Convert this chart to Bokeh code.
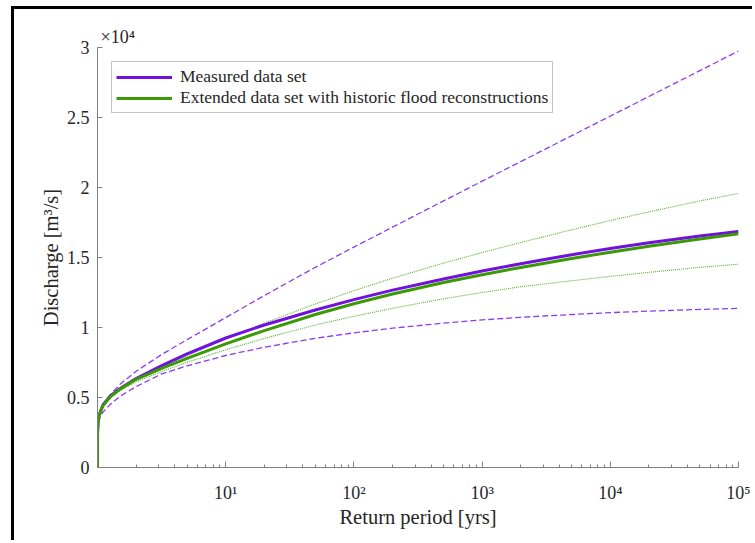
from bokeh.plotting import figure
from bokeh.models import Range1d, FixedTicker, Title
from bokeh.embed import file_html
from bokeh.resources import INLINE

# Return period [yrs]
return_period = [1, 1.0001, 1.001, 1.01, 1.03, 1.1, 1.26, 1.5, 2, 3.2, 5, 10, 20, 50,
                 100, 200, 500, 1000, 2000, 5000, 10000, 20000, 50000, 100000]

# Discharge [x 10^4 m3/s]
measured = [0, 0.19, 0.25, 0.32, 0.375, 0.445, 0.511, 0.564, 0.635, 0.729,
            0.812, 0.925, 1.018, 1.125, 1.199, 1.267, 1.347, 1.403, 1.456, 1.52,
            1.564, 1.605, 1.654, 1.685]
measured_upper = [0, 0.195, 0.255, 0.33, 0.385, 0.455, 0.52, 0.595, 0.687, 0.81,
                  0.913, 1.071, 1.228, 1.43, 1.574, 1.717, 1.904, 2.045, 2.185, 2.37,
                  2.51, 2.65, 2.835, 2.975]
measured_lower = [0, 0.18, 0.235, 0.30, 0.345, 0.394, 0.452, 0.509, 0.578, 0.67,
                  0.726, 0.80, 0.859, 0.923, 0.962, 0.995, 1.031, 1.054, 1.073, 1.093,
                  1.106, 1.117, 1.129, 1.137]
extended = [0, 0.19, 0.25, 0.32, 0.372, 0.44, 0.505, 0.56, 0.63, 0.71,
            0.779, 0.883, 0.978, 1.093, 1.170, 1.239, 1.321, 1.377, 1.429, 1.493,
            1.538, 1.58, 1.632, 1.669]
extended_upper = [0, 0.19, 0.25, 0.32, 0.375, 0.445, 0.51, 0.565, 0.64, 0.72,
                  0.798, 0.918, 1.031, 1.168, 1.263, 1.352, 1.46, 1.535, 1.607, 1.698,
                  1.764, 1.826, 1.904, 1.958]
extended_lower = [0, 0.185, 0.245, 0.315, 0.365, 0.433, 0.50, 0.55, 0.612, 0.687,
                  0.751, 0.841, 0.922, 1.018, 1.08, 1.137, 1.205, 1.25, 1.291, 1.334,
                  1.365, 1.394, 1.43, 1.452]
scale = 1e4

x_ticks = [10, 100, 1000, 10000, 100000]
x_tick_labels = ["10\u00b9", "10\u00b2", "10\u00b3", "10\u2074", "10\u2075"]
y_ticks = [0, 5000, 10000, 15000, 20000, 25000, 30000]
y_tick_labels = ["0", "0.5", "1", "1.5", "2", "2.5", "3"]


def m3s(vals):
    return [v * scale for v in vals]


FONT = "Liberation Serif"
TEXT = "#262626"
AXIS = "#808080"
PURPLE = "#7210de"
GREEN = "#3a9a06"
PURPLE_CI = "#8c3cf0"
GREEN_CI = "#5aae30"

p = figure(width=741, height=534, x_axis_type="log",
           x_range=Range1d(1, 100000), y_range=Range1d(0, 30000),
           output_backend="svg", toolbar_location=None,
           min_border_left=83, min_border_right=17,
           min_border_top=38, min_border_bottom=76)
p.styles = {"margin-left": "11px", "margin-top": "6px",
            "border-top": "3px solid black", "border-left": "3px solid black"}
p.outline_line_color = None
p.grid.visible = False
p.background_fill_color = "white"
p.border_fill_color = "white"

p.title = Title(text="\u00d710\u2074", text_font=FONT, text_font_size="18px",
                text_font_style="normal", text_color=TEXT, align="left",
                offset=3, standoff=2)

# confidence bounds
p.line(return_period, m3s(measured_upper), line_color=PURPLE_CI, line_width=1.3, line_dash="6 3")
p.line(return_period, m3s(measured_lower), line_color=PURPLE_CI, line_width=1.3, line_dash="6 3")
p.line(return_period, m3s(extended_upper), line_color=GREEN_CI, line_width=1.1, line_dash="1 1")
p.line(return_period, m3s(extended_lower), line_color=GREEN_CI, line_width=1.1, line_dash="1 1")

# main curves
p.line(return_period, m3s(measured), line_color=PURPLE, line_width=3,
       legend_label="Measured data set")
p.line(return_period, m3s(extended), line_color=GREEN, line_width=3,
       legend_label="Extended data set with historic flood reconstructions")

# axes
xa = p.xaxis[0]
xa.ticker = FixedTicker(ticks=x_ticks,
                        minor_ticks=[m * d for d in [1, 10, 100, 1000, 10000] for m in range(2, 10)])
xa.major_label_overrides = {t: l for t, l in zip(x_ticks, x_tick_labels)}
xa.axis_label = "Return period [yrs]"

ya = p.yaxis[0]
ya.ticker = FixedTicker(ticks=y_ticks)
ya.major_label_overrides = {t: l for t, l in zip(y_ticks, y_tick_labels)}
ya.axis_label = "Discharge [m\u00b3/s]"

for ax in (xa, ya):
    ax.axis_line_color = AXIS
    ax.axis_line_width = 1
    ax.major_tick_line_color = AXIS
    ax.minor_tick_line_color = AXIS
    ax.major_tick_in = 6
    ax.major_tick_out = 0
    ax.minor_tick_in = 3
    ax.minor_tick_out = 0
    ax.major_label_text_font = FONT
    ax.major_label_text_font_size = "18px"
    ax.major_label_text_color = TEXT
    ax.axis_label_text_font = FONT
    ax.axis_label_text_font_size = "20.5px"
    ax.axis_label_text_font_style = "normal"
    ax.axis_label_text_color = TEXT

ya.minor_tick_line_color = None
ya.major_tick_in = 5
ya.major_label_standoff = 8
ya.axis_label_standoff = 2
xa.major_label_standoff = 15
xa.axis_label_standoff = 0

# legend
lg = p.legend[0]
lg.location = "top_left"
lg.margin = 14
lg.border_line_color = "#8a8a8a"
lg.border_line_width = 1
lg.background_fill_color = "white"
lg.background_fill_alpha = 1
lg.label_text_font = FONT
lg.label_text_font_size = "17.5px"
lg.label_text_color = TEXT
lg.glyph_width = 56
lg.glyph_height = 20
lg.label_height = 20
lg.label_standoff = 8
lg.spacing = 0
lg.padding = 4

open("out.html", "w").write(file_html(p, INLINE))
